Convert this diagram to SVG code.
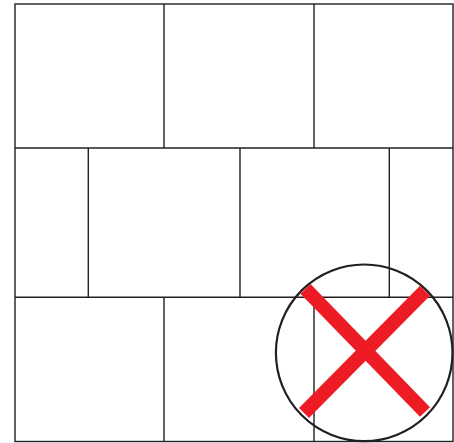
<svg xmlns="http://www.w3.org/2000/svg" width="454" height="443" viewBox="0 0 454 443">
  <style>
    .grid { fill: none; stroke: #231f20; stroke-width: 1.4; }
    .ring { fill: none; stroke: #231f20; stroke-width: 2.2; }
    .cross { stroke: #ed1c24; stroke-width: 14; stroke-linecap: butt; }
  </style>
  <rect width="454" height="443" fill="#ffffff"/>
  <g id="tiles" class="grid">
    <rect x="15" y="4" width="438" height="437.5"/>
    <line x1="15" y1="148" x2="453" y2="148"/>
    <line x1="15" y1="297.3" x2="453" y2="297.3"/>
    <line x1="164" y1="4" x2="164" y2="148"/>
    <line x1="314" y1="4" x2="314" y2="148"/>
    <line x1="88.3" y1="148" x2="88.3" y2="297.3"/>
    <line x1="240" y1="148" x2="240" y2="297.3"/>
    <line x1="389.3" y1="148" x2="389.3" y2="297.3"/>
    <line x1="164" y1="297.3" x2="164" y2="441.5"/>
    <line x1="314" y1="297.3" x2="314" y2="441.5"/>
  </g>
  <g id="no-sign">
    <circle class="ring" cx="364.2" cy="352.8" r="88.3"/>
    <line class="cross" x1="305.5" y1="288.8" x2="425" y2="412"/>
    <line class="cross" x1="425" y1="290.8" x2="304" y2="413"/>
  </g>
</svg>
